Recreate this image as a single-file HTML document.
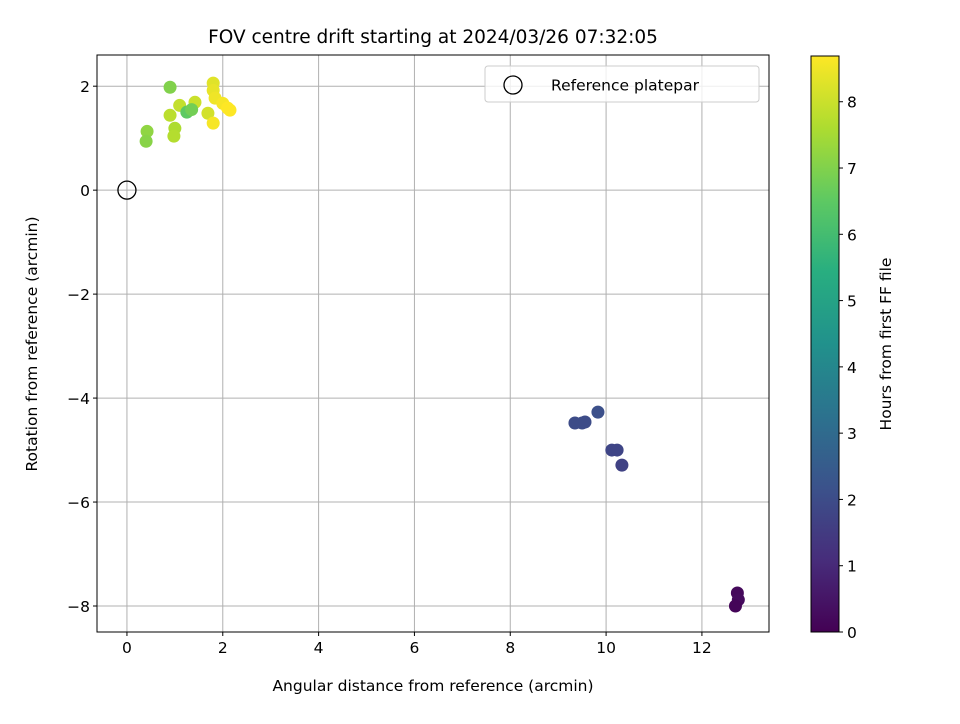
<!DOCTYPE html>
<html><head><meta charset="utf-8"><style>
body{margin:0;background:#fff;font-family:"DejaVu Sans","Liberation Sans",sans-serif}
svg text{font-family:"DejaVu Sans","Liberation Sans",sans-serif;fill:#000}
</style></head><body>
<svg id="c" width="960" height="720">
<defs><linearGradient id="vir" x1="0" y1="1" x2="0" y2="0">
<stop offset="0" stop-color="#440154"/><stop offset="0.125" stop-color="#472d7b"/><stop offset="0.25" stop-color="#3b528b"/><stop offset="0.375" stop-color="#2c728e"/><stop offset="0.5" stop-color="#21918c"/><stop offset="0.625" stop-color="#28ae80"/><stop offset="0.75" stop-color="#5ec962"/><stop offset="0.875" stop-color="#addc30"/><stop offset="1" stop-color="#fde725"/></linearGradient></defs>
<g id="grid"></g><g id="pts"></g><g id="axes"></g>
</svg>
<script>
const xs=[0.90,0.42,0.40,0.90,1.10,1.00,0.98,1.42,1.25,1.80,1.80,1.69,1.80,1.84,2.00,2.10,2.15,1.35,9.35,9.50,9.83,9.56,10.12,10.23,10.33,12.74,12.76,12.70];
const ys=[1.98,1.13,0.94,1.44,1.63,1.19,1.04,1.69,1.50,2.06,1.92,1.48,1.29,1.77,1.67,1.58,1.54,1.55,-4.48,-4.48,-4.27,-4.46,-5.00,-5.00,-5.29,-7.75,-7.88,-8.00];
const hrs=[7.0,7.2,7.1,7.8,7.9,7.6,7.7,8.0,6.5,8.3,8.4,8.1,8.6,8.5,8.6,8.7,8.7,6.8,2.0,2.0,2.1,2.0,1.8,1.8,1.7,0.2,0.25,0.1];
const xTicks=[0,2,4,6,8,10,12];
const yTicks=[2,0,-2,-4,-6,-8];
const cTicks=[0,1,2,3,4,5,6,7,8];
const L=97,R=769,T=55,B=632,xmin=-0.625,xmax=13.4,ymin=-8.5,ymax=2.6,hmax=8.69;
const X=v=>L+(v-xmin)/(xmax-xmin)*(R-L);
const Y=v=>B-(v-ymin)/(ymax-ymin)*(B-T);
const CY=v=>632-v/hmax*(632-56);
const NS='http://www.w3.org/2000/svg';
function mk(p,t,a){const e=document.createElementNS(NS,t);for(const k in a)e.setAttribute(k,a[k]);p.appendChild(e);return e;}
const vs=[[68,1,84],[71,45,123],[59,82,139],[44,114,142],[33,145,140],[40,174,128],[94,201,98],[173,220,48],[253,231,37]];
function vir(h){let t=Math.max(0,Math.min(1,h/hmax))*8;let i=Math.min(7,Math.floor(t)),f=t-i;const a=vs[i],b=vs[i+1];return 'rgb('+a.map((c,k)=>Math.round(c+(b[k]-c)*f)).join(',')+')';}
const svg=document.getElementById('c'),g=document.getElementById('grid'),p=document.getElementById('pts'),ax=document.getElementById('axes');
const FS='15.5';
xTicks.forEach(v=>{let l=mk(g,'line',{x1:X(v),x2:X(v),y1:T,y2:B,stroke:'#b0b0b0','stroke-width':1});
mk(ax,'line',{x1:X(v),x2:X(v),y1:B,y2:B+4,stroke:'#000'});let t=mk(ax,'text',{x:X(v),y:B+21,'text-anchor':'middle','font-size':FS});t.textContent=v;});
yTicks.forEach(v=>{let l=mk(g,'line',{x1:L,x2:R,y1:Y(v),y2:Y(v),stroke:'#b0b0b0','stroke-width':1});
mk(ax,'line',{x1:L-4,x2:L,y1:Y(v),y2:Y(v),stroke:'#000'});let t=mk(ax,'text',{x:L-7,y:Y(v)+6,'text-anchor':'end','font-size':FS});t.textContent=(v<0?'\u2212'+(-v):v);});
xs.forEach((v,i)=>{let c=mk(p,'circle',{cx:X(v),cy:Y(ys[i]),r:6.5,fill:vir(hrs[i])});});
let rp=mk(p,'circle',{cx:X(0),cy:Y(0),r:9,fill:'none',stroke:'#000','stroke-width':1.3});
let fr=mk(ax,'rect',{x:L,y:T,width:R-L,height:B-T,fill:'none',stroke:'#000','stroke-width':1});
let lg=mk(ax,'g',{});
mk(lg,'rect',{x:485,y:66,width:274,height:36,rx:3,fill:'#fff','fill-opacity':0.8,stroke:'#ccc'});
mk(lg,'circle',{cx:513,cy:85,r:9,fill:'none',stroke:'#000','stroke-width':1.3});
let lt=mk(lg,'text',{x:551,y:90.5,'font-size':FS});lt.textContent='Reference platepar';
let cb=mk(ax,'rect',{x:811,y:56,width:28,height:576,fill:'url(#vir)',stroke:'#000','stroke-width':1});
cTicks.forEach(v=>{mk(ax,'line',{x1:839,x2:843,y1:CY(v),y2:CY(v),stroke:'#000'});let t=mk(ax,'text',{x:847,y:CY(v)+6,'font-size':FS});t.textContent=v;});
function lab(txt,a,name){let t=mk(ax,'text',a);t.textContent=txt;}
lab('FOV centre drift starting at 2024/03/26 07:32:05',{x:433,y:43,'text-anchor':'middle','font-size':'18.5'},'chart-title');
lab('Angular distance from reference (arcmin)',{x:433,y:691,'text-anchor':'middle','font-size':FS},'x-axis-title');
lab('Rotation from reference (arcmin)',{x:0,y:0,'text-anchor':'middle','font-size':FS,transform:'translate(37,344) rotate(-90)'},'y-axis-title');
lab('Hours from first FF file',{x:0,y:0,'text-anchor':'middle','font-size':FS,transform:'translate(891,344) rotate(-90)'},'colorbar-title');
</script>
</body></html>
